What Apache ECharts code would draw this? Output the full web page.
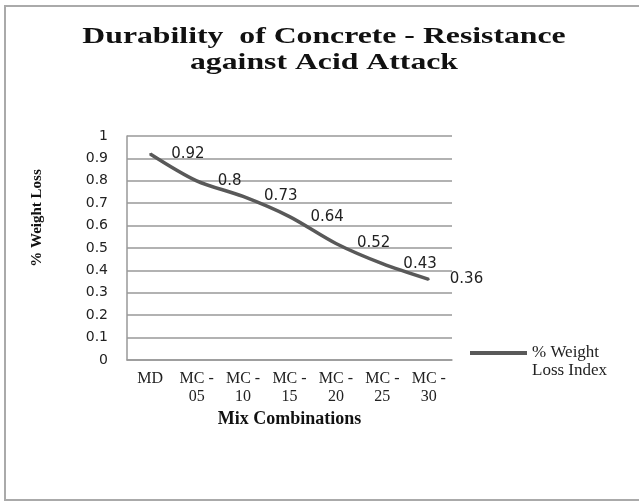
<!DOCTYPE html>
<html>
<head>
<meta charset="utf-8">
<script src="https://cdn.jsdelivr.net/npm/echarts@6/dist/echarts.min.js"></script>
<style>html,body{margin:0;padding:0;background:#fff}#c{width:639px;height:504px}</style>
</head>
<body>
<div id="c"></div>
<script>
const categories = ['MD', 'MC -\n05', 'MC -\n10', 'MC -\n15', 'MC -\n20', 'MC -\n25', 'MC -\n30'];
const weightLoss = [0.92, 0.8, 0.73, 0.64, 0.52, 0.43, 0.36];
const yTicks = [0, 0.1, 0.2, 0.3, 0.4, 0.5, 0.6, 0.7, 0.8, 0.9, 1];
const seriesName = '% Weight Loss Index';
const titleText = 'Durability  of Concrete - Resistance\nagainst Acid Attack';

const chart = echarts.init(document.getElementById('c'));
chart.setOption({
  animation: false,
  backgroundColor: '#fff',
  graphic: [
    { type: 'rect', shape: { x: 5, y: 6, width: 650, height: 494 }, style: { fill: 'none', stroke: '#aaa', lineWidth: 2 }, z: -1 },
    { type: 'text', x: 324, y: 24, scaleX: 1.38,
      style: { text: titleText, fontFamily: 'Liberation Serif', fontWeight: 'bold', fontSize: 23, lineHeight: 26, fill: '#111', align: 'center', verticalAlign: 'top' } },
    { type: 'text', x: 37, y: 218, rotation: Math.PI / 2,
      style: { text: '% Weight Loss', fontFamily: 'Liberation Serif', fontWeight: 'bold', fontSize: 15, fill: '#111', align: 'center', verticalAlign: 'middle' } }
  ],
  legend: {
    left: 465, top: 321, orient: 'vertical',
    itemWidth: 57, itemHeight: 4,
    icon: 'rect',
    data: [{ name: seriesName }],
    formatter: () => ' \n% Weight\nLoss Index',
    textStyle: { fontFamily: 'Liberation Serif', fontSize: 17, lineHeight: 18, color: '#222' }
  },
  grid: { left: 127, right: 187, top: 136, bottom: 144, containLabel: false },
  xAxis: {
    type: 'category', data: categories, boundaryGap: true,
    name: 'Mix Combinations', nameLocation: 'middle', nameGap: 50,
    nameTextStyle: { fontFamily: 'Liberation Serif', fontWeight: 'bold', fontSize: 18, color: '#111' },
    axisLine: { lineStyle: { color: '#999', width: 1.5 } },
    axisTick: { show: false },
    axisLabel: { interval: 0, margin: 10, fontFamily: 'Liberation Serif', fontSize: 16, lineHeight: 18, color: '#222' }
  },
  yAxis: {
    type: 'value', min: 0, max: 1, interval: 0.1,
    axisLine: { show: true, lineStyle: { color: '#999', width: 1.5 } },
    axisTick: { show: false },
    splitLine: { lineStyle: { color: '#999', width: 1.5 } },
    axisLabel: { margin: 19, fontFamily: 'DejaVu Sans', fontSize: 14, color: '#222',
      formatter: v => { const t = yTicks.find(x => Math.abs(x - v) < 1e-9); return t === undefined ? '' : String(t); } }
  },
  series: [{
    name: seriesName, type: 'line', data: weightLoss, smooth: 0.3,
    symbol: 'circle', symbolSize: 2, showSymbol: true,
    lineStyle: { color: '#595959', width: 3.5 },
    itemStyle: { color: '#595959' },
    label: { show: true, position: 'right', distance: 20, fontFamily: 'DejaVu Sans', fontSize: 15, color: '#222' }
  }]
});
</script>
</body>
</html>
